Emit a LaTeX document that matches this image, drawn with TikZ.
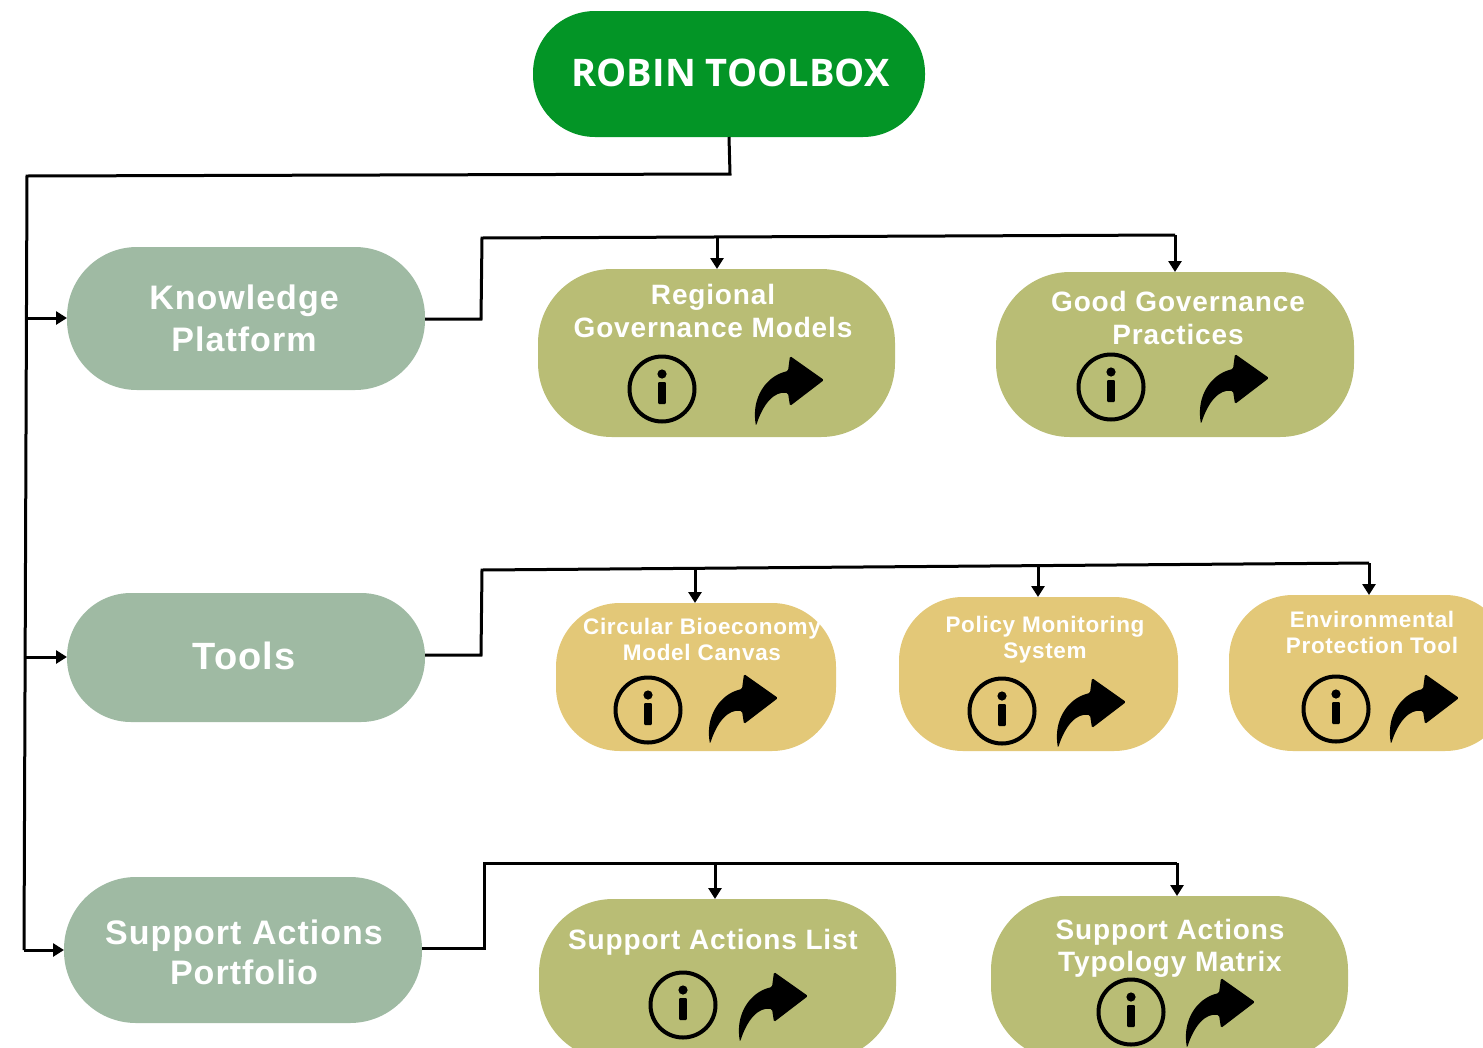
\documentclass[tikz,border=0pt]{standalone}
\usepackage{fontspec}
\setmainfont{Liberation Sans}
\newfontfamily\titlefont{Open Sans}
\newfontfamily\spacedfont[LetterSpace=3]{Liberation Sans}
\usetikzlibrary{arrows.meta}
\definecolor{rootgreen}{HTML}{039526}
\definecolor{sage}{HTML}{9FBAA3}
\definecolor{olive}{HTML}{B9BD75}
\definecolor{sand}{HTML}{E3C878}
\tikzset{
  x=1pt,y=-1pt,
  conn/.style={line width=3pt,black,line join=miter},
  arr/.style={conn,-{Triangle[length=11pt,width=13pt]},shorten >=0pt},
  box/.style={draw=none,inner sep=0pt,outer sep=0pt,rectangle},
  txt/.style={text=white,align=center,inner sep=0pt,font=\spacedfont\bfseries},
  big/.style={txt,font=\fontsize{34}{42}\spacedfont\bfseries},
  mid/.style={txt,font=\fontsize{28}{33}\spacedfont\bfseries},
  small/.style={txt,font=\fontsize{22.5}{26}\spacedfont\bfseries},
  infoicon/.pic={
    \draw[line width=4pt,black] (0,0) circle[radius=32.5];
    \fill[black,rounded corners=1pt] (-3.8,-7) rectangle (3.8,15);
    \fill[black] (0,-15) circle[radius=4.6];
  },
  shareicon/.pic={
    \fill[black,line join=round,rounded corners=1.5pt]
      (0,2) .. controls (-5,-26) and (10,-48) .. (32,-53)
      -- (34,-68) -- (68,-44) -- (34,-18) -- (32,-31)
      .. controls (18,-33) and (7,-20) .. (0,2) -- cycle;
  }
}
% box: name, left, top, right, bottom, colour, radius
\newcommand{\roundbox}[7]{%
  \node[box,fill=#6,rounded corners=#7pt,minimum width=#4pt-#2pt,minimum height=#5pt-#3pt,anchor=north west] (#1) at (#2,#3) {};}
\begin{document}
\begin{tikzpicture}
\useasboundingbox (0,0) rectangle (1483,1047);
\clip (0,0) rectangle (1483,1047);
\roundbox{root}{533}{11}{925}{137}{rootgreen}{62}
\roundbox{know}{67}{247}{425}{390}{sage}{70}
\roundbox{tools}{67}{593}{425}{722}{sage}{64}
\roundbox{supp}{64}{877}{422}{1023}{sage}{72}
\roundbox{reg}{538}{269}{895}{437}{olive}{74}
\roundbox{good}{996}{272}{1354}{437}{olive}{74}
\roundbox{circ}{556}{603}{836}{751}{sand}{64}
\roundbox{poli}{899}{597}{1178}{751}{sand}{64}
\roundbox{envi}{1229}{595}{1509}{751}{sand}{64}
\roundbox{list}{539}{899}{896}{1060}{olive}{74}
\roundbox{typo}{991}{896}{1348}{1060}{olive}{74}

\node[txt,font=\fontsize{38}{42}\titlefont\bfseries] (troot) at (730.5,73) {ROBIN TOOLBOX};
\node[big] (tknow) at (244,318) {Knowledge\\Platform};
\node[big,font=\fontsize{38}{42}\spacedfont\bfseries] (ttools) at (244,656) {Tools};
\node[big,font=\fontsize{34}{40}\spacedfont\bfseries] (tsupp) at (244,952) {Support Actions\\Portfolio};
\node[mid] (treg) at (713,311) {Regional\\Governance Models};
\node[mid] (tgood) at (1178,318) {Good Governance\\Practices};
\node[small] (tcirc) at (702,639.5) {Circular Bioeconomy\\Model Canvas};
\node[small] (tpoli) at (1045,640) {Policy Monitoring\\System};
\node[small] (tenvi) at (1372,632.5) {Environmental\\Protection Tool};
\node[mid] (tlist) at (713,942) {Support Actions List};
\node[mid,font=\fontsize{28}{32}\spacedfont\bfseries] (ttypo) at (1170,948) {Support Actions\\Typology Matrix};

\foreach \x/\y in {662/389,1111/387,648/710,1002/711,1336/709,683/1005,1131/1012}
  \pic at (\x,\y) {infoicon};
\foreach \x/\y in {756/424,1201/422,710/742,1058/746,1391/742,740/1040,1187/1046}
  \pic at (\x,\y) {shareicon};

% trunk
\coordinate (r1) at (730,174);
\coordinate (r2) at (27,176);
\coordinate (r3) at (24,950);
\coordinate (rk) at (26.5,318);
\coordinate (rt) at (25.5,657);
\draw[conn] (root.south) -- (r1) -- (r2) -- (r3);
\draw[arr] (r3) -- (supp.west |- r3);
\draw[arr] (rk) -- (know.west |- rk);
\draw[arr] (rt) -- (tools.west |- rt);
% knowledge platform
\coordinate (k1) at (481,319);
\coordinate (k2) at (482,238);
\coordinate (k3) at (1175,235);
\coordinate (kb) at (717,237);
\draw[conn] (know.east |- k1) -- (k1) -- (k2) -- (k3);
\draw[arr] (k3) -- (k3 |- good.north);
\draw[arr] (kb) -- (kb |- reg.north);
% tools
\coordinate (t1) at (481,655);
\coordinate (t2) at (482,570);
\coordinate (t3) at (1369,563);
\coordinate (tb) at (695,568);
\coordinate (tc) at (1038,566);
\draw[conn] (tools.east |- t1) -- (t1) -- (t2) -- (t3);
\draw[arr] (t3) -- (t3 |- envi.north);
\draw[arr] (tb) -- (tb |- circ.north);
\draw[arr] (tc) -- (tc |- poli.north);
% support
\coordinate (s1) at (484,948);
\coordinate (s2) at (484,863);
\coordinate (s3) at (1177,863);
\coordinate (sb) at (715,863);
\draw[conn] (supp.east |- s1) -- (s1) -- (s2) -- (s3);
\draw[arr] (s3) -- (s3 |- typo.north);
\draw[arr] (sb) -- (sb |- list.north);
\end{tikzpicture}
\end{document}
